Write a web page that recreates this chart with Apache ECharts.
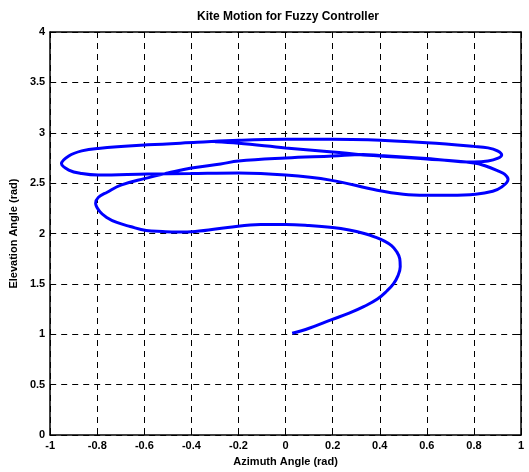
<!DOCTYPE html>
<html>
<head>
<meta charset="utf-8">
<script src="https://cdn.jsdelivr.net/npm/echarts@6/dist/echarts.min.js"></script>
<style>
  html, body { margin: 0; padding: 0; background: #fff; }
  #chart { width: 529px; height: 472px; }
</style>
</head>
<body>
<div id="chart"></div>
<script>
// kite path (azimuth / elevation in rad)
var azimuth = [
  0.028, 0.10, 0.196, 0.27, 0.334, 0.39, 0.430, 0.458, 0.477, 0.487,
  0.485, 0.472, 0.450, 0.420, 0.38, 0.334, 0.27, 0.2, 0.099, 0.0,
  -0.107, -0.246, -0.384, -0.46, -0.523, -0.592, -0.66, -0.717, -0.76, -0.79,
  -0.807, -0.795, -0.758, -0.70, -0.6, -0.5, -0.4, -0.276, -0.2, 0.0,
  0.2, 0.33, 0.4, 0.6, 0.8, 0.86, 0.9, 0.918, 0.90, 0.86,
  0.8, 0.6, 0.35, 0.2, 0.0, -0.2, -0.376, -0.586, -0.796, -0.866,
  -0.921, -0.952, -0.921, -0.866, -0.796, -0.586, -0.404, -0.2, 0.0, 0.19,
  0.389, 0.5, 0.597, 0.7, 0.807, 0.88, 0.917, 0.945, 0.93, 0.904,
  0.85, 0.8, 0.6, 0.4, 0.33, 0.2, 0.0, -0.2, -0.3
];
var elevation = [
  1.01, 1.06, 1.146, 1.21, 1.277, 1.35, 1.43, 1.50, 1.58, 1.67,
  1.75, 1.82, 1.88, 1.925, 1.965, 2.0, 2.035, 2.06, 2.08, 2.09,
  2.09, 2.06, 2.02, 2.015, 2.02, 2.03, 2.07, 2.11, 2.16, 2.22,
  2.30, 2.36, 2.41, 2.48, 2.545, 2.60, 2.65, 2.69, 2.72, 2.75,
  2.77, 2.785, 2.775, 2.745, 2.71, 2.72, 2.745, 2.78, 2.82, 2.85,
  2.865, 2.90, 2.93, 2.935, 2.935, 2.925, 2.905, 2.88, 2.845, 2.82,
  2.77, 2.694, 2.63, 2.595, 2.58, 2.59, 2.595, 2.60, 2.58, 2.53,
  2.43, 2.39, 2.38, 2.38, 2.39, 2.42, 2.46, 2.54, 2.59, 2.62,
  2.67, 2.70, 2.74, 2.77, 2.78, 2.81, 2.85, 2.895, 2.91
];

var titleText = 'Kite Motion for Fuzzy Controller';
var xName = 'Azimuth Angle (rad)';
var yName = 'Elevation Angle (rad)';

var font = 'Arial, "Liberation Sans", sans-serif';
var points = azimuth.map(function (x, i) { return [x, elevation[i]]; });

var gridLine = { show: true, lineStyle: { color: '#000', width: 1, type: [6, 5] } };
var frame = { show: true, onZero: false, lineStyle: { color: '#000', width: 1.5 } };
var tick = { show: true, inside: true, length: 4, lineStyle: { color: '#000' } };
var labelStyle = { color: '#000', fontFamily: font, fontWeight: 'bold', fontSize: 11 };

var myChart = echarts.init(document.getElementById('chart'));
var option = {
  animation: false,
  backgroundColor: '#fff',
  title: {
    text: titleText,
    left: 283,
    textAlign: 'center',
    top: 6,
    textStyle: { color: '#000', fontFamily: font, fontWeight: 'bold', fontSize: 12 }
  },
  grid: { left: 45, right: 8, top: 32, bottom: 32 },
  xAxis: [
    {
      type: 'value', min: -1, max: 1, interval: 0.2,
      name: xName, nameLocation: 'middle', nameGap: 19,
      nameTextStyle: labelStyle,
      axisLine: frame, axisTick: tick, splitLine: gridLine,
      axisLabel: Object.assign({ margin: 5 }, labelStyle)
    },
    {
      type: 'value', min: -1, max: 1, interval: 0.2, position: 'top',
      axisLine: frame, axisTick: tick, splitLine: { show: false },
      axisLabel: { show: false }
    }
  ],
  yAxis: [
    {
      type: 'value', min: 0, max: 4, interval: 0.5,
      name: yName, nameLocation: 'middle', nameGap: 30, nameRotate: 90,
      nameTextStyle: labelStyle,
      axisLine: frame, axisTick: tick, splitLine: gridLine,
      axisLabel: Object.assign({ margin: 5 }, labelStyle)
    },
    {
      type: 'value', min: 0, max: 4, interval: 0.5, position: 'right',
      axisLine: frame, axisTick: tick, splitLine: { show: false },
      axisLabel: { show: false }
    }
  ],
  series: [{
    type: 'line',
    data: points,
    smooth: 0.4,
    showSymbol: false,
    lineStyle: { color: '#0000ff', width: 3 }
  }]
};
myChart.setOption(option);
</script>
</body>
</html>
